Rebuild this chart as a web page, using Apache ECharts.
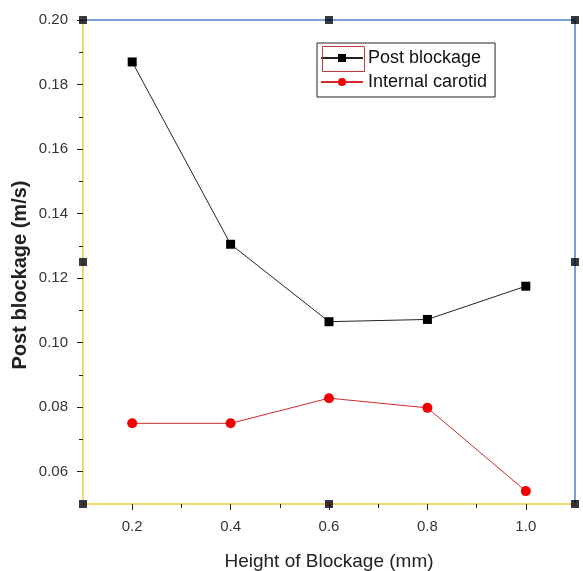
<!DOCTYPE html>
<html>
<head>
<meta charset="utf-8">
<script src="https://cdn.jsdelivr.net/npm/echarts@6/dist/echarts.min.js"></script>
<style>
  html, body { margin: 0; padding: 0; background: #fff; }
  #chart { width: 583px; height: 571px; }
</style>
</head>
<body>
<div id="chart"></div>
<script>
// Blockage heights (mm)
const heights = [0.2, 0.4, 0.6, 0.8, 1.0];
// Velocity behind the blockage (m/s)
const postBlockage = [0.187, 0.1305, 0.1065, 0.1072, 0.1175];
// Velocity in the internal carotid (m/s)
const internalCarotid = [0.075, 0.075, 0.0828, 0.0798, 0.054];

// Tick positions
const xMajorTicks = [0.2, 0.4, 0.6, 0.8, 1.0];
const xMinorTicks = [0.3, 0.5, 0.7, 0.9];
const yMajorTicks = [0.06, 0.08, 0.10, 0.12, 0.14, 0.16, 0.18, 0.20];
const yMinorTicks = [0.07, 0.09, 0.11, 0.13, 0.15, 0.17, 0.19];

// Frame handle squares at the corners and edge midpoints
const frameHandles = [
  [0.1, 0.2], [0.6, 0.2], [1.1, 0.2],
  [0.1, 0.125], [1.1, 0.125],
  [0.1, 0.05], [0.6, 0.05], [1.1, 0.05]
];

const FONT = '"Liberation Sans", Arial, sans-serif';
const AXIS_YELLOW = '#f2d66e';
const FRAME_BLUE = '#4f81c9';

const chart = echarts.init(document.getElementById('chart'), null, { renderer: 'canvas' });

const xRange = { min: 0.1, max: 1.1 };
const yRange = { min: 0.05, max: 0.20 };

chart.setOption({
  backgroundColor: '#fff',
  animation: false,
  grid: {
    left: 83, right: 8, top: 20, bottom: 67,
    outerBoundsMode: 'none', containLabel: false,
    show: true, borderColor: FRAME_BLUE, borderWidth: 1.5, backgroundColor: 'transparent'
  },
  xAxis: [
    {
      type: 'value', ...xRange, position: 'bottom',
      name: 'Height of Blockage (mm)', nameLocation: 'middle', nameGap: 48,
      nameTextStyle: { fontFamily: FONT, fontSize: 19, color: '#222' },
      axisLine: { show: true, onZero: false, lineStyle: { color: AXIS_YELLOW, width: 2 } },
      axisTick: { show: true, customValues: xMajorTicks, length: 6, lineStyle: { color: '#222', width: 1 } },
      axisLabel: { customValues: xMajorTicks, margin: 15, fontFamily: FONT, fontSize: 15, color: '#333',
        formatter: v => v.toFixed(1) },
      splitLine: { show: false }
    },
    {
      type: 'value', ...xRange, position: 'bottom',
      axisLine: { show: false, onZero: false },
      axisTick: { show: true, customValues: xMinorTicks, length: 4, lineStyle: { color: '#222', width: 1 } },
      axisLabel: { show: false },
      splitLine: { show: false }
    }
  ],
  yAxis: [
    {
      type: 'value', ...yRange, position: 'left',
      axisLine: { show: true, onZero: false, lineStyle: { color: AXIS_YELLOW, width: 2 } },
      axisTick: { show: true, customValues: yMajorTicks, length: 6, lineStyle: { color: '#222', width: 1 } },
      axisLabel: { customValues: yMajorTicks, margin: 15, fontFamily: FONT, fontSize: 15, color: '#333',
        formatter: v => v.toFixed(2) },
      splitLine: { show: false }
    },
    {
      type: 'value', ...yRange, position: 'left',
      axisLine: { show: false, onZero: false },
      axisTick: { show: true, customValues: yMinorTicks, length: 4, lineStyle: { color: '#222', width: 1 } },
      axisLabel: { show: false },
      splitLine: { show: false }
    }
  ],
  legend: {
    data: ['Post blockage', 'Internal carotid'],
    orient: 'vertical',
    left: 317, top: 43,
    itemWidth: 42, itemHeight: 10, itemGap: 6,
    padding: [6, 8, 6, 3],
    borderColor: '#222', borderWidth: 1,
    backgroundColor: '#fff',
    textStyle: { fontFamily: FONT, fontSize: 18, color: '#111' },
    selectedMode: false
  },
  graphic: [
    {
      // vertical axis title
      type: 'text', x: 20, y: 275, rotation: Math.PI / 2,
      style: {
        text: 'Post blockage (m/s)', fontFamily: FONT, fontSize: 20, fontWeight: 'bold',
        fill: '#222', align: 'center', verticalAlign: 'middle'
      }
    },
    {
      type: 'rect', left: 320, top: 44, z: 200,
      shape: { width: 42, height: 25 },
      style: { fill: 'none', stroke: '#c0393b', lineWidth: 1 }
    }
  ],
  series: [
    {
      name: 'Post blockage', type: 'line',
      data: heights.map((h, i) => [h, postBlockage[i]]),
      symbol: 'rect', symbolSize: 9,
      itemStyle: { color: '#000' },
      lineStyle: { color: '#222', width: 1 },
      z: 5
    },
    {
      name: 'Internal carotid', type: 'line',
      data: heights.map((h, i) => [h, internalCarotid[i]]),
      symbol: 'circle', symbolSize: 10,
      itemStyle: { color: '#f00000' },
      lineStyle: { color: '#d42a2a', width: 1 },
      z: 5
    },
    {
      name: 'frame', type: 'scatter',
      data: frameHandles,
      symbol: 'rect', symbolSize: 8,
      itemStyle: { color: '#050510' },
      clip: false, silent: true, z: 6
    }
  ]
});
</script>
</body>
</html>
